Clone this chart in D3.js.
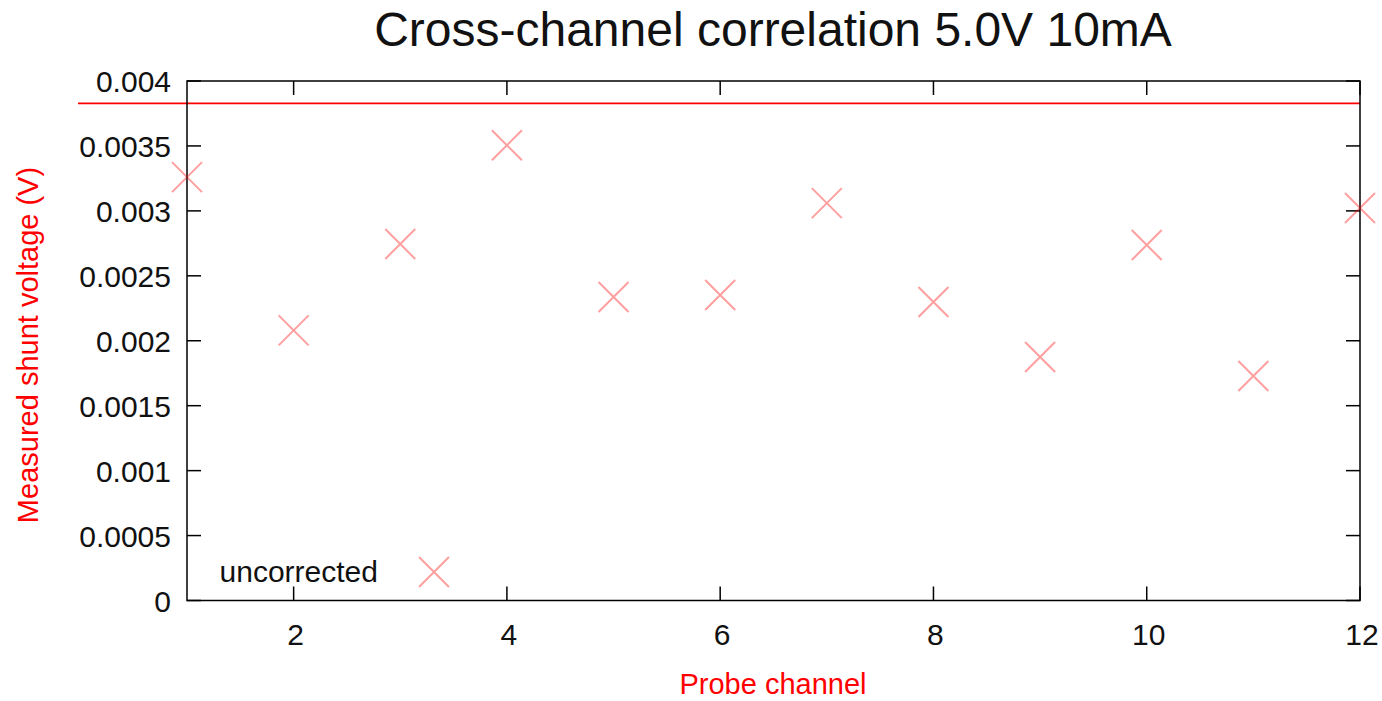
<!DOCTYPE html>
<html><head><meta charset="utf-8">
<script src="https://cdn.jsdelivr.net/npm/d3@7"></script>
<style>body{margin:0;background:#fff}svg{display:block}text{font-family:"Liberation Sans",Arial,sans-serif}</style>
</head><body>
<script>
const channels = [1,2,3,4,5,6,7,8,9,10,11,12];
const uncorrected = [0.00326,0.00208,0.002745,0.003505,0.002337,0.002352,0.00306,0.002298,0.001875,0.002737,0.001729,0.003022];
const refLevel = 0.003828;
const xTicks = [2,4,6,8,10,12];
const yTicks = [0,0.0005,0.001,0.0015,0.002,0.0025,0.003,0.0035,0.004];
const yTickLabels = ["0","0.0005","0.001","0.0015","0.002","0.0025","0.003","0.0035","0.004"];
const title = "Cross-channel correlation 5.0V 10mA";
const xLabel = "Probe channel";
const yLabel = "Measured shunt voltage (V)";
const legendLabel = "uncorrected";

const W=1382,H=701;
const L=187,R=1360,T=81,B=600.5;
const svg=d3.select("body").append("svg").attr("width",W).attr("height",H);
const x=d3.scaleLinear().domain([1,12]).range([L,R]);
const y=d3.scaleLinear().domain([0,0.004]).range([B,T]);
const tl=14;
const g=svg.append("g");
const ax=g.append("g").attr("stroke","#000").attr("stroke-width",1.5);
xTicks.forEach(v=>{
  ax.append("line").attr("x1",x(v)).attr("x2",x(v)).attr("y1",B).attr("y2",B-tl);
  ax.append("line").attr("x1",x(v)).attr("x2",x(v)).attr("y1",T).attr("y2",T+tl);
});
yTicks.forEach(v=>{
  ax.append("line").attr("x1",L).attr("x2",L+tl).attr("y1",y(v)).attr("y2",y(v));
  ax.append("line").attr("x1",R).attr("x2",R-tl).attr("y1",y(v)).attr("y2",y(v));
});
xTicks.forEach(v=>{
  g.append("text").attr("x",x(v)+2).attr("y",645).attr("text-anchor","middle").attr("font-size",30).attr("fill","#111").text(v);
});
yTicks.forEach((v,i)=>{
  g.append("text").attr("x",171).attr("y",y(v)+11).attr("text-anchor","end").attr("font-size",30).attr("fill","#111").text(yTickLabels[i]);
});
g.append("line").attr("x1",78).attr("x2",R).attr("y1",y(refLevel)).attr("y2",y(refLevel)).attr("stroke","#ff0000").attr("stroke-width",1.8);
g.append("rect").attr("x",L).attr("y",T).attr("width",R-L).attr("height",B-T).attr("fill","none").attr("stroke","#000").attr("stroke-width",1.5);
const s=15;
const mk=g.append("g").attr("stroke","#ff0000").attr("stroke-opacity",0.38).attr("stroke-width",2);
function cross(cx,cy){
  mk.append("path").attr("d",`M${cx-s},${cy-s}L${cx+s},${cy+s}M${cx-s},${cy+s}L${cx+s},${cy-s}`);
}
channels.forEach((c,i)=>cross(x(c),y(uncorrected[i])));
g.append("text").attr("x",378).attr("y",582).attr("text-anchor","end").attr("font-size",30).attr("fill","#111").text(legendLabel);
cross(434,572);
svg.append("text").attr("x",773).attr("y",46).attr("text-anchor","middle").attr("font-size",48).attr("fill","#111").text(title);
svg.append("text").attr("x",773).attr("y",694).attr("text-anchor","middle").attr("font-size",29).attr("fill","#ff0000").text(xLabel);
svg.append("text").attr("transform","translate(38,345) rotate(-90)").attr("text-anchor","middle").attr("font-size",29).attr("fill","#ff0000").text(yLabel);
</script>
</body></html>
